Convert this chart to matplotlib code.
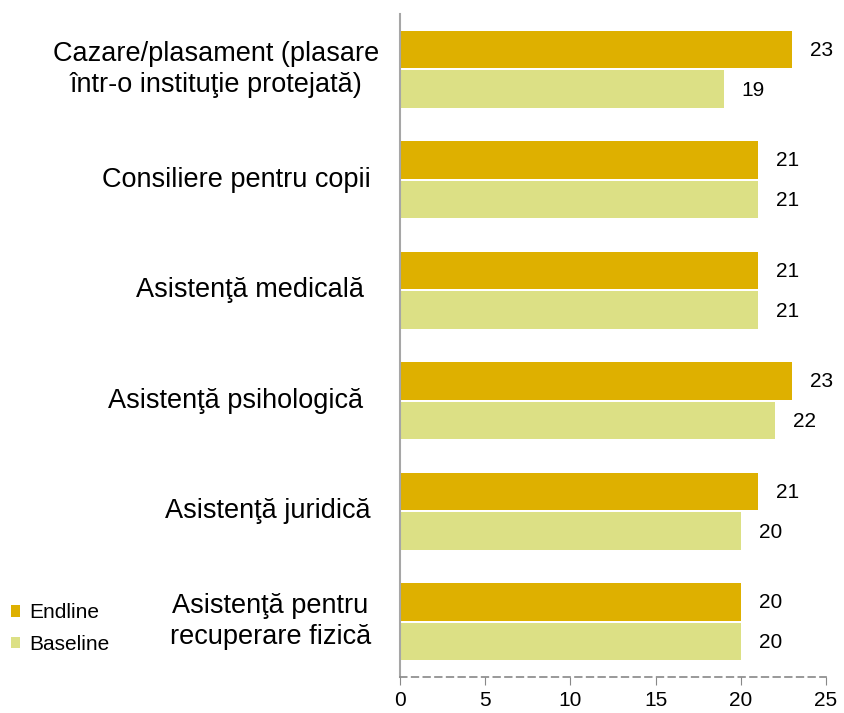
import matplotlib
matplotlib.use("Agg")
import matplotlib.pyplot as plt
from matplotlib import font_manager
import numpy as np

# categories top to bottom
categories = [
    "Cazare/plasament (plasare\nîntr-o instituţie protejată)",
    "Consiliere pentru copii",
    "Asistenţă medicală ",
    "Asistenţă psihologică ",
    "Asistenţă juridică",
    "Asistenţă pentru\nrecuperare fizică",
]
endline = [23, 21, 21, 23, 21, 20]
baseline = [19, 21, 21, 22, 20, 20]
x_ticks = [0, 5, 10, 15, 20, 25]

endline_color = "#DEB000"
baseline_color = "#DCE085"

names = {f.name for f in font_manager.fontManager.ttflist}
narrow = "Liberation Sans Narrow" if "Liberation Sans Narrow" in names else "Liberation Sans"

fig = plt.figure(figsize=(8.44, 7.13), dpi=100)
ax = fig.add_axes([400 / 844, 36 / 713, 426 / 844, 663 / 713])

n = len(categories)
y = np.arange(n)
h = 0.34
ax.barh(y - h / 2 - 0.01, endline, height=h, color=endline_color, label="Endline")
ax.barh(y + h / 2 + 0.01, baseline, height=h, color=baseline_color, label="Baseline")

for i in range(n):
    ax.text(endline[i] + 1.05, y[i] - h / 2, str(endline[i]), va="center", ha="left",
            fontsize=15, family="Liberation Sans")
    ax.text(baseline[i] + 1.05, y[i] + h / 2 + 0.02, str(baseline[i]), va="center", ha="left",
            fontsize=15, family="Liberation Sans")

ax.set_ylim(n - 0.5, -0.5)
ax.set_xlim(0, 25)
ax.set_xticks(x_ticks)
ax.set_xticklabels([str(t) for t in x_ticks], fontsize=15, family=narrow)
ax.tick_params(axis="x", length=6, color="#888888", pad=4)
ax.set_yticks([])

for i, lab in enumerate(categories):
    fam = "Liberation Sans" if i < 2 else narrow
    xpos = -1.2 if i == 0 else -1.7
    ax.text(xpos, y[i], lab, ha="right", va="center", multialignment="center",
            fontsize=19.5, family=fam, linespacing=1.25)

for s in ["top", "right"]:
    ax.spines[s].set_visible(False)
ax.spines["left"].set_color("#A6A6A6")
ax.spines["left"].set_linewidth(1.5)
ax.spines["bottom"].set_color("#888888")
ax.spines["bottom"].set_linestyle((0, (4, 3)))
ax.spines["bottom"].set_linewidth(1.2)

leg = fig.legend(loc="lower left", bbox_to_anchor=(9 / 844, 57 / 713), frameon=False,
                 prop={"family": narrow, "size": 15}, handlelength=0.45, handleheight=0.45,
                 handletextpad=0.4, labelspacing=0.6, borderaxespad=0, borderpad=0.1)

fig.savefig("out.png", dpi=100)
